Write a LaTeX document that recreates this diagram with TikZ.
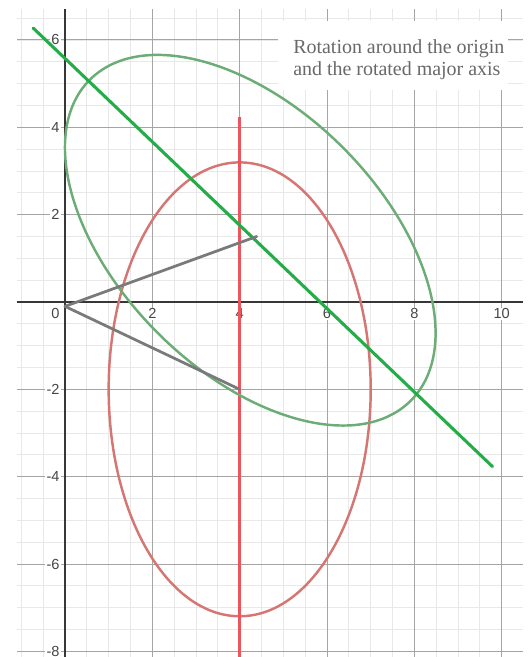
\documentclass[tikz,border=0pt]{standalone}
\usepackage{fontspec}
\setmainfont{Liberation Serif}
\newfontfamily\ticksans{Liberation Sans}
\usepackage{tikz}
\usetikzlibrary{positioning}
\definecolor{gridminor}{RGB}{232,232,232}
\definecolor{gridmajor}{RGB}{165,165,165}
\definecolor{axisdark}{RGB}{55,55,55}
\definecolor{ticktext}{RGB}{70,70,70}
\definecolor{ellred}{RGB}{214,118,115}
\definecolor{linered}{RGB}{236,84,94}
\definecolor{ellgreen}{RGB}{108,172,118}
\definecolor{linegreen}{RGB}{36,172,72}
\definecolor{spokegray}{RGB}{122,122,122}
\definecolor{notegray}{RGB}{105,105,105}
\tikzset{
  minorgrid/.style={draw=gridminor, line width=0.5pt},
  majorgrid/.style={draw=gridmajor, line width=0.6pt},
  axisline/.style={draw=axisdark, line width=1pt},
  ticklabel/.style={font=\ticksans\fontsize{9.5}{11}\selectfont,
    text=ticktext, fill=white, inner sep=0.8pt},
  redellipse/.style={draw=ellred, line width=1.6pt},
  greenellipse/.style={draw=ellgreen, line width=1.6pt},
  redaxis/.style={draw=linered, line width=2pt},
  greenaxis/.style={draw=linegreen, line width=2pt, line cap=round},
  spoke/.style={draw=spokegray, line width=1.8pt, line cap=round},
  note/.style={text=notegray, align=left, inner sep=0pt,
    font=\fontsize{13}{14.5}\selectfont}
}

\begin{document}
\begin{tikzpicture}
  \useasboundingbox (-1.488,-8.129) rectangle (10.625,6.915);

  % grid and axes
  \draw[minorgrid, step=0.5] (-1.1,-8.129) grid (10.48,6.7);
  \draw[majorgrid, step=2] (-1.1,-8.129) grid (10.48,6.7);
  \draw[axisline] (-1.1,0) -- (10.48,0);
  \draw[axisline] (0,-8.129) -- (0,6.7);

  % tick labels
  \node[ticklabel, anchor=north east] (xl0) at (-0.09,-0.12) {0};
  \foreach \x in {2,4,...,10}
    \node[ticklabel, anchor=north] (xl\x) at (\x,-0.12) {\x};
  \foreach \y in {6,4,2,-2,-4,-6,-8}
    \node[ticklabel, anchor=east] (yl\y) at (-0.09,\y) {\y};

  % points
  \coordinate (O) at (0,-0.1);
  \coordinate (C) at (4,-2);
  \coordinate (Crot) at (4.39,1.5);
  \coordinate (redtop) at (4,4.23);
  \coordinate (redbot) at (4,-8.129);
  \coordinate (greentop) at (-0.726,6.27);
  \coordinate (greenbot) at (9.79,-3.77);

  % original ellipse and its major axis
  \draw[redellipse] (4,-2) ellipse [x radius=3, y radius=5.196];
  \draw[redaxis] (redtop) -- (redbot);

  % rotated ellipse (45 degrees about the origin) and its major axis
  \draw[greenellipse, rotate=45] (4,-2) ellipse [x radius=3, y radius=5.196];
  \draw[greenaxis] (greentop) -- (greenbot);

  % centres joined to the origin
  \draw[spoke] (O) -- (C);
  \draw[spoke] (O) -- (Crot);

  % caption
  \fill[white] (4.88,4.85) rectangle (10.14,6.43);
  \node[note, anchor=north west] (caption) at (5.22,6.01)
    {Rotation around the origin\\and the rotated major axis};
\end{tikzpicture}
\end{document}
